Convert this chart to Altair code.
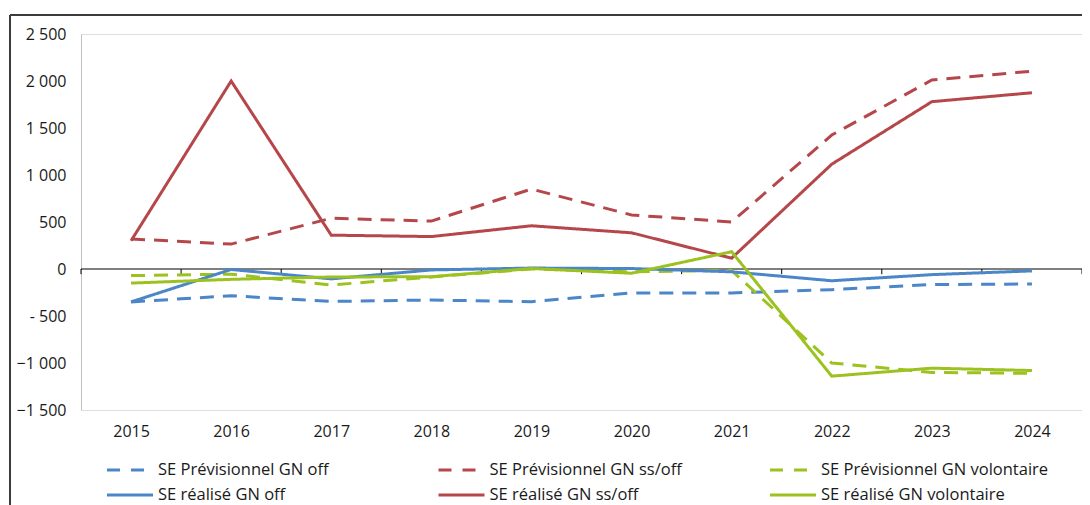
import altair as alt
import pandas as pd

years = [2015, 2016, 2017, 2018, 2019, 2020, 2021, 2022, 2023, 2024]

series_names = [
    "SE Prévisionnel GN off",
    "SE Prévisionnel GN ss/off",
    "SE Prévisionnel GN volontaire",
    "SE réalisé GN off",
    "SE réalisé GN ss/off",
    "SE réalisé GN volontaire",
]
legend_col = [0, 1, 2, 0, 1, 2]
legend_row = [0, 0, 0, 1, 1, 1]

prev_off = [-350, -285, -345, -330, -348, -255, -255, -220, -165, -160]
prev_ssoff = [320, 265, 540, 510, 850, 575, 500, 1425, 2010, 2105]
prev_vol = [-70, -55, -170, -85, 0, -30, -15, -1000, -1100, -1110]
real_off = [-350, -5, -105, -10, 10, 5, -30, -125, -60, -20]
real_ssoff = [300, 2000, 360, 345, 460, 385, 115, 1115, 1780, 1875]
real_vol = [-150, -110, -85, -82, 5, -45, 184, -1140, -1055, -1080]

y_ticks = [-1500, -1000, -500, 0, 500, 1000, 1500, 2000, 2500]
boundaries = [2014.5, 2015.5, 2016.5, 2017.5, 2018.5, 2019.5, 2020.5, 2021.5, 2022.5, 2023.5, 2024.5]

colors = ["#4a86c8", "#b5474a", "#9cc21f", "#4a86c8", "#b5474a", "#9cc21f"]
dashes = [[14, 9], [14, 9], [14, 9], [1, 0], [1, 0], [1, 0]]
legend_dashes = [[13, 11], [13, 11], [13, 11], [1, 0], [1, 0], [1, 0]]

all_values = [prev_off, prev_ssoff, prev_vol, real_off, real_ssoff, real_vol]
rows = []
for name, vals in zip(series_names, all_values):
    for yr, v in zip(years, vals):
        rows.append({"annee": yr, "valeur": v, "serie": name})
df = pd.DataFrame(rows)

leg_df = pd.DataFrame({"serie": series_names, "col": legend_col, "row": legend_row})

W, H = 1001, 376
FONT = "Open Sans"

xscale = alt.Scale(domain=[2014.5, 2024.5], nice=False, zero=False)
yscale = alt.Scale(domain=[-1500, 2500], nice=False)

color_enc = alt.Color("serie:N", scale=alt.Scale(domain=series_names, range=colors), legend=None)
dash_enc = alt.StrokeDash("serie:N", scale=alt.Scale(domain=series_names, range=dashes), legend=None)

lines = alt.Chart(df).mark_line(strokeWidth=3).encode(
    x=alt.X(
        "annee:Q",
        scale=xscale,
        axis=alt.Axis(
            values=years,
            format="d",
            title=None,
            grid=False,
            ticks=False,
            domain=False,
            labelFont=FONT,
            labelFontSize=16,
            labelColor="#1a1a1a",
            labelPadding=13,
        ),
    ),
    y=alt.Y(
        "valeur:Q",
        scale=yscale,
        axis=alt.Axis(
            values=y_ticks,
            title=None,
            ticks=False,
            domain=True,
            domainColor="#bfbfbf",
            gridColor="#c6c6c6",
            labelFont=FONT,
            labelFontSize=16,
            labelColor="#1a1a1a",
            labelPadding=15,
            labelExpr="datum.value < 0 && datum.value > -1000 ? '- ' + format(-datum.value, 'd') : replace(format(datum.value, ','), ',', ' ')",
        ),
    ),
    color=color_enc,
    strokeDash=dash_enc,
    order=alt.Order("annee:Q"),
)

zero_line = alt.Chart(pd.DataFrame({"z": [0]})).mark_rule(color="#000000", strokeWidth=1).encode(
    y=alt.Y("z:Q", scale=yscale, axis=None)
)

ticks = alt.Chart(pd.DataFrame({"b": boundaries})).mark_rule(color="#000000", strokeWidth=1).encode(
    x=alt.X("b:Q", scale=xscale, axis=None),
    y=alt.Y("t0:Q", scale=yscale, axis=None),
    y2="t1:Q",
).transform_calculate(t0="0", t1="-55")

leg_x = alt.X("col:Q", scale=alt.Scale(domain=[0, 2], range=[49, 712]), axis=None)
leg_y = alt.Y("row:Q", scale=alt.Scale(domain=[0, 1], range=[436, 461]), axis=None)

leg_sym = alt.Chart(leg_df).mark_point(
    shape="M-1,0H1", filled=False, size=2116, strokeWidth=3, opacity=1
).encode(
    x=leg_x,
    y=leg_y,
    color=alt.Color("serie:N", scale=alt.Scale(domain=series_names, range=colors), legend=None),
    strokeDash=alt.StrokeDash("serie:N", scale=alt.Scale(domain=series_names, range=legend_dashes), legend=None),
)

leg_txt = alt.Chart(leg_df).mark_text(
    align="left", baseline="middle", dx=28, font=FONT, fontSize=16.5, color="#1a1a1a"
).encode(x=leg_x, y=leg_y, text="serie:N")

frame_top = alt.Chart(pd.DataFrame({"k": [0]})).mark_rule(color="#3c3c3c", strokeWidth=2).encode(
    x=alt.value(-71), x2=alt.value(W + 6), y=alt.value(-19)
)
frame_left = alt.Chart(pd.DataFrame({"k": [0]})).mark_rule(color="#3c3c3c", strokeWidth=2).encode(
    x=alt.value(-71), y=alt.value(-19), y2=alt.value(H + 100)
)

chart = (
    alt.layer(zero_line, ticks, lines, leg_sym, leg_txt, frame_top, frame_left)
    .resolve_scale(x="independent", y="independent", color="independent", strokeDash="independent")
    .properties(
        width=W,
        height=H,
        autosize=alt.AutoSizeParams(type="none"),
        padding={"left": 73, "top": 26, "right": 0, "bottom": 95},
    )
    .configure_view(fill="#f2f2f2", stroke=None)
    .configure(background="white")
)

chart.save("out.html", embed_options={"renderer": "svg", "actions": False})
